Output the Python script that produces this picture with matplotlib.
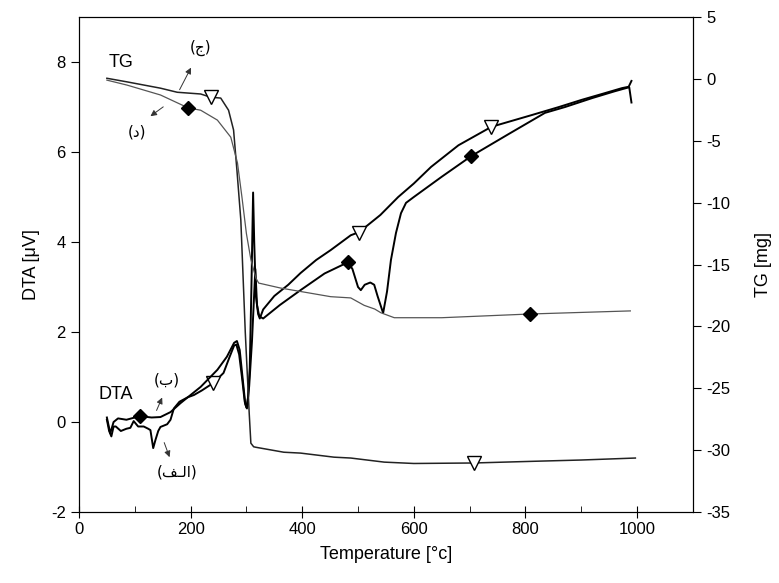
import matplotlib
matplotlib.use("Agg")
import matplotlib.pyplot as plt
from matplotlib.ticker import MultipleLocator

plt.rcParams['font.family'] = ['Liberation Sans', 'DejaVu Sans']
plt.rcParams['axes.unicode_minus'] = False

# DTA curve with open triangles (lower on the left, upper on the right)
dta1_t = [50, 54, 58, 62, 66, 75, 85, 92, 98, 106, 116, 124, 128, 133, 137, 142, 146, 152, 158,
          164, 170, 180, 195, 206, 220, 241, 259, 270, 278, 282, 287, 292, 297, 300, 303, 306,
          309, 312, 314, 317, 321, 324, 330, 350, 375, 397, 425, 451, 487, 502, 540, 572, 600,
          631, 680, 739, 811, 860, 901, 940, 973, 985, 990]
dta1_v = [0.05, -0.2, -0.32, -0.1, -0.1, -0.2, -0.15, -0.13, 0.02, -0.1, -0.1, -0.15, -0.18, -0.58,
          -0.4, -0.2, -0.11, -0.08, -0.05, 0.05, 0.3, 0.45, 0.55, 0.6, 0.7, 0.87, 1.09, 1.45, 1.7,
          1.72, 1.5, 1.0, 0.45, 0.32, 0.55, 1.2, 3.0, 5.1, 4.0, 2.8, 2.4, 2.3, 2.5, 2.8, 3.05, 3.31,
          3.6, 3.82, 4.15, 4.22, 4.6, 5.0, 5.3, 5.67, 6.15, 6.56, 6.82, 7.0, 7.16, 7.3, 7.42, 7.45, 7.58]
dta1_mk_t = [241, 502, 739]
dta1_mk_v = [0.87, 4.2, 6.56]

# DTA curve with filled diamonds
dta2_t = [50, 56, 62, 70, 85, 100, 110, 130, 146, 164, 182, 200, 218, 248, 265, 278, 283, 288,
          293, 298, 301, 305, 310, 316, 319, 323, 330, 360, 397, 440, 482, 490, 500, 505, 512,
          522, 529, 535, 545, 552, 559, 568, 577, 586, 600, 650, 703, 770, 835, 871, 920, 960,
          986, 990]
dta2_v = [0.1, -0.25, 0.0, 0.08, 0.05, 0.1, 0.13, 0.1, 0.11, 0.22, 0.42, 0.6, 0.78, 1.16, 1.45,
          1.76, 1.8, 1.6, 1.0, 0.4, 0.3, 0.8, 1.8, 3.4, 2.6, 2.35, 2.3, 2.6, 2.93, 3.3, 3.55, 3.4,
          3.0, 2.93, 3.05, 3.1, 3.05, 2.8, 2.42, 2.9, 3.6, 4.2, 4.64, 4.87, 5.0, 5.45, 5.91, 6.4,
          6.87, 7.0, 7.2, 7.35, 7.44, 7.1]
dta2_mk_t = [110, 482, 703]
dta2_mk_v = [0.13, 3.55, 5.91]

# TG curve with open triangles (mg)
tg1_t = [50, 86, 146, 176, 218, 236, 254, 268, 277, 283, 290, 298, 305, 308, 313, 317, 367, 397,
         457, 487, 547, 600, 707, 817, 900, 997]
tg1_v = [0.05, -0.24, -0.75, -1.08, -1.22, -1.48, -1.55, -2.53, -4.13, -7.37, -11.4, -20.5, -27.0,
         -29.44, -29.73, -29.77, -30.17, -30.24, -30.57, -30.64, -30.97, -31.08, -31.04, -30.9,
         -30.8, -30.64]
tg1_mk_t = [236, 707]
tg1_mk_v = [-1.48, -31.04]

# TG curve with filled diamonds (mg)
tg2_t = [50, 86, 146, 196, 218, 248, 272, 284, 292, 300, 308, 317, 322, 361, 451, 487, 511, 530,
         541, 565, 650, 808, 988]
tg2_v = [-0.1, -0.5, -1.3, -2.35, -2.53, -3.33, -4.71, -6.79, -9.55, -12.5, -14.6, -16.1, -16.5,
         -16.9, -17.6, -17.7, -18.3, -18.6, -18.9, -19.3, -19.3, -19.0, -18.75]
tg2_mk_t = [196, 808]
tg2_mk_v = [-2.35, -19.0]

fig = plt.figure(figsize=(7.79, 5.83), dpi=100)
ax = fig.add_axes([0.1014, 0.1218, 0.788, 0.849])
ax2 = ax.twinx()

ax.plot(dta1_t, dta1_v, color='black', lw=1.4)
ax.plot(dta1_mk_t, dta1_mk_v, ls='none', marker='v', ms=10, mfc='white', mec='black', mew=1.0)
ax.plot(dta2_t, dta2_v, color='black', lw=1.4)
ax.plot(dta2_mk_t, dta2_mk_v, ls='none', marker='D', ms=7, color='black')

ax2.plot(tg1_t, tg1_v, color='#222222', lw=1.1)
ax2.plot(tg1_mk_t, tg1_mk_v, ls='none', marker='v', ms=10, mfc='white', mec='black', mew=1.0)
ax2.plot(tg2_t, tg2_v, color='#555555', lw=0.9)
ax2.plot(tg2_mk_t, tg2_mk_v, ls='none', marker='D', ms=7, color='black')

ax.set_xlim(0, 1100)
ax.set_ylim(-2, 9)
ax2.set_ylim(-35, 5)
ax.xaxis.set_major_locator(MultipleLocator(200))
ax.xaxis.set_minor_locator(MultipleLocator(100))
ax.yaxis.set_major_locator(MultipleLocator(2))
ax2.yaxis.set_major_locator(MultipleLocator(5))

ax.tick_params(axis='x', which='major', direction='inout', length=8, labelsize=12)
ax.tick_params(axis='x', which='minor', direction='in', length=4)
ax.tick_params(axis='y', direction='out', length=6, labelsize=12)
ax2.tick_params(axis='y', direction='out', length=6, labelsize=12)

ax.set_xlabel('Temperature [°c]', fontsize=13, labelpad=6)
ax.set_ylabel('DTA [μV]', fontsize=13, labelpad=8)
ax2.set_ylabel('TG [mg]', fontsize=13, labelpad=18)

ax.text(76, 8.0, 'TG', fontsize=13, ha='center', va='center')
ax.text(65, 0.6, 'DTA', fontsize=13, ha='center', va='center')

arab = ['DejaVu Sans']
ap = dict(arrowstyle='-|>', lw=0.7, color='#333333', mutation_scale=9)
ax.annotate('', xy=(203, 7.93), xytext=(178, 7.33), arrowprops=ap)
ax.text(218, 8.31, '(ج)', family=arab, fontsize=11, ha='center', va='center')
ax.annotate('', xy=(124, 6.76), xytext=(155, 7.04), arrowprops=ap)
ax.text(104, 6.44, '(د)', family=arab, fontsize=11, ha='center', va='center')
ax.annotate('', xy=(151, 0.6), xytext=(137, 0.2), arrowprops=ap)
ax.text(158, 0.93, '(ب)', family=arab, fontsize=11, ha='center', va='center')
ax.annotate('', xy=(164, -0.84), xytext=(151, -0.4), arrowprops=ap)
ax.text(176, -1.11, '(\ufed2\u0640\ufedf\ufe8d)', family=arab, fontsize=11, ha='center', va='center')

fig.savefig('out.png', dpi=100)
